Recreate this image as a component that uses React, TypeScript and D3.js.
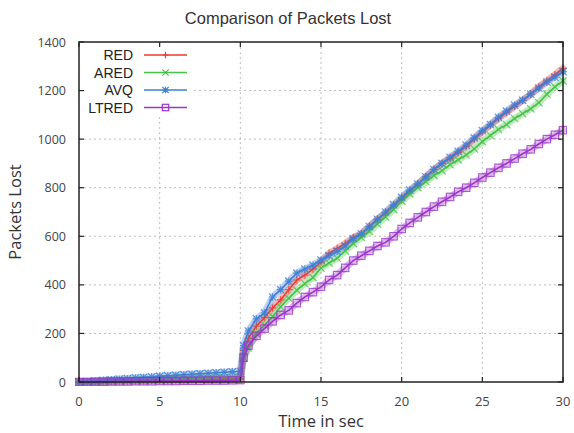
import React from "react";
import * as d3 from "d3";

const times = [0,0.5,1,1.5,2,2.5,3,3.5,4,4.5,5,5.5,6,6.5,7,7.5,8,8.5,9,9.5,10,10.2,10.5,11,11.5,12,12.5,13,13.5,14,14.5,15,15.5,16,16.5,17,17.5,18,18.5,19,19.5,20,20.5,21,21.5,22,22.5,23,23.5,24,24.5,25,25.5,26,26.5,27,27.5,28,28.5,29,29.5,30];

const red = [0,1,2,2,3,4,4,5,5,6,7,7,8,8,9,10,10,11,12,13,14,130,180,230,265,305,338,380,420,440,465,494,530,550,570,595,610,640,670,695,725,755,785,815,845,875,900,920,945,970,1000,1030,1058,1085,1110,1135,1160,1185,1215,1240,1265,1292];
const ared = [0,1,2,3,4,5,6,7,8,9,10,11,12,13,14,15,16,17,18,19,21,100,140,200,235,270,310,345,378,405,430,469,490,510,540,570,595,620,650,680,710,745,775,800,825,850,870,895,915,935,960,990,1015,1040,1060,1085,1105,1125,1150,1185,1215,1240];
const avq = [0,2,4,7,9,12,14,17,19,21,24,26,28,30,32,34,36,38,40,42,44,150,210,260,285,350,380,415,448,465,481,502,520,538,560,590,610,640,670,700,730,760,790,815,845,875,900,925,950,975,1005,1035,1060,1090,1115,1140,1160,1185,1210,1235,1255,1278];
const ltred = [0,0,1,1,2,2,2,3,3,3,4,4,4,5,5,5,6,6,6,7,8,100,150,190,220,250,276,295,325,350,370,392,420,440,470,500,520,540,560,575,600,630,655,678,700,722,742,762,783,800,820,842,862,882,900,920,940,958,980,1000,1018,1037];

const seriesNames = ["RED", "ARED", "AVQ", "LTRED"];
const seriesColors = ["#ec3a35", "#45c445", "#3f7fd4", "#9a35c8"];
const seriesMarkers = ["plus", "cross", "star", "square"];
const seriesValues = [red, ared, avq, ltred];

const xTicks = [0, 5, 10, 15, 20, 25, 30];
const yTicks = [0, 200, 400, 600, 800, 1000, 1200, 1400];

const W = 574, H = 433;
const L = 79, R = 563, T = 42, B = 382;

function Marker({ type, x, y, color, op = 1, s = 3.2 }: { type: string; x: number; y: number; color: string; op?: number; s?: number }) {
  if (type === "plus") {
    return <path d={`M${x - s},${y}H${x + s}M${x},${y - s}V${y + s}`} stroke={color} strokeWidth={1.2} fill="none" strokeOpacity={op} />;
  }
  if (type === "cross") {
    return <path d={`M${x - s},${y - s}L${x + s},${y + s}M${x - s},${y + s}L${x + s},${y - s}`} stroke={color} strokeWidth={1.2} fill="none" strokeOpacity={op} />;
  }
  if (type === "star") {
    return <path d={`M${x - s},${y}H${x + s}M${x},${y - s}V${y + s}M${x - s},${y - s}L${x + s},${y + s}M${x - s},${y + s}L${x + s},${y - s}`} stroke={color} strokeWidth={1.2} fill="none" strokeOpacity={op} />;
  }
  return <rect x={x - s} y={y - s} width={2 * s} height={2 * s} stroke={color} strokeWidth={1.2} fill="none" strokeOpacity={op} />;
}

export default function App() {
  const x = d3.scaleLinear().domain([0, 30]).range([L, R]);
  const y = d3.scaleLinear().domain([0, 1400]).range([B, T]);
  const line = d3.line<number>().x((_, i) => x(times[i])).y((d) => y(d));
  const axisFont = "'Open Sans', 'Liberation Sans', Arial, sans-serif";
  const titleFont = "'Liberation Sans', Arial, sans-serif";
  const legendRows = [55, 72.5, 90, 107.5];

  return (
    <svg width={W} height={H} style={{ position: "absolute", left: 0, top: 0, background: "#fff" }}>
      <rect x={0} y={0} width={W} height={H} fill="#fff" />
      <defs>
        <clipPath id="plotclip">
          <rect x={L - 4} y={T - 4} width={R - L + 8} height={B - T + 8} />
        </clipPath>
      </defs>
      {/* grid */}
      <g stroke="#bdbdbd" strokeWidth={1} strokeDasharray="2,3">
        {xTicks.slice(1, -1).map((t) => (
          <line key={"gx" + t} x1={x(t)} x2={x(t)} y1={T} y2={B} />
        ))}
        {yTicks.slice(1, -1).map((t) => (
          <line key={"gy" + t} x1={L} x2={R} y1={y(t)} y2={y(t)} />
        ))}
      </g>
      {/* legend background */}
      <rect x={L + 1} y={T + 1} width={113} height={73} fill="#fff" />
      {/* series */}
      <g clipPath="url(#plotclip)">
        {seriesValues.map((vals, si) => (
          <g key={seriesNames[si]}>
            <path d={line(vals) || ""} stroke={seriesColors[si]} strokeWidth={7} fill="none" strokeOpacity={0.35} strokeLinejoin="round" strokeLinecap="round" />
            {vals.map((v, i) => (
              <Marker key={i} type={seriesMarkers[si]} x={x(times[i])} y={y(v)} color={seriesColors[si]} op={0.8} s={3.7} />
            ))}
            <path d={line(vals) || ""} stroke={seriesColors[si]} strokeWidth={1.6} fill="none" strokeLinejoin="round" />
          </g>
        ))}
      </g>
      {/* legend */}
      {seriesNames.map((n, i) => (
        <g key={"lg" + n}>
          <text x={133} y={legendRows[i] + 5} textAnchor="end" fontFamily={titleFont} fontSize={14} fill="#222">{n}</text>
          <line x1={144} x2={187} y1={legendRows[i]} y2={legendRows[i]} stroke={seriesColors[i]} strokeWidth={1.5} />
          <Marker type={seriesMarkers[i]} x={165.5} y={legendRows[i]} color={seriesColors[i]} />
        </g>
      ))}
      {/* ticks */}
      <g stroke="#222" strokeWidth={1.2}>
        {xTicks.map((t) => (
          <g key={"tx" + t}>
            <line x1={x(t)} x2={x(t)} y1={B} y2={B - 5} />
            <line x1={x(t)} x2={x(t)} y1={T} y2={T + 5} />
          </g>
        ))}
        {yTicks.map((t) => (
          <g key={"ty" + t}>
            <line x1={L} x2={L + 5} y1={y(t)} y2={y(t)} />
            <line x1={R} x2={R - 5} y1={y(t)} y2={y(t)} />
          </g>
        ))}
      </g>
      <rect x={L} y={T} width={R - L} height={B - T} fill="none" stroke="#222" strokeWidth={1.5} />
      {/* tick labels */}
      {xTicks.map((t) => (
        <text key={"lx" + t} x={x(t)} y={406} textAnchor="middle" fontFamily={axisFont} fontSize={13} fill="#444">{t}</text>
      ))}
      {yTicks.map((t) => (
        <text key={"ly" + t} x={66} y={y(t) + 4.5} textAnchor="end" fontFamily={axisFont} fontSize={12.5} fill="#444">{t}</text>
      ))}
      <text x={288} y={24} textAnchor="middle" fontFamily={titleFont} fontSize={16.5} fill="#333">Comparison of Packets Lost</text>
      <text x={321} y={427} textAnchor="middle" fontFamily={axisFont} fontSize={16.5} fill="#333">Time in sec</text>
      <text transform={`translate(21,212) rotate(-90)`} textAnchor="middle" fontFamily={axisFont} fontSize={16.5} fill="#333">Packets Lost</text>
    </svg>
  );
}
